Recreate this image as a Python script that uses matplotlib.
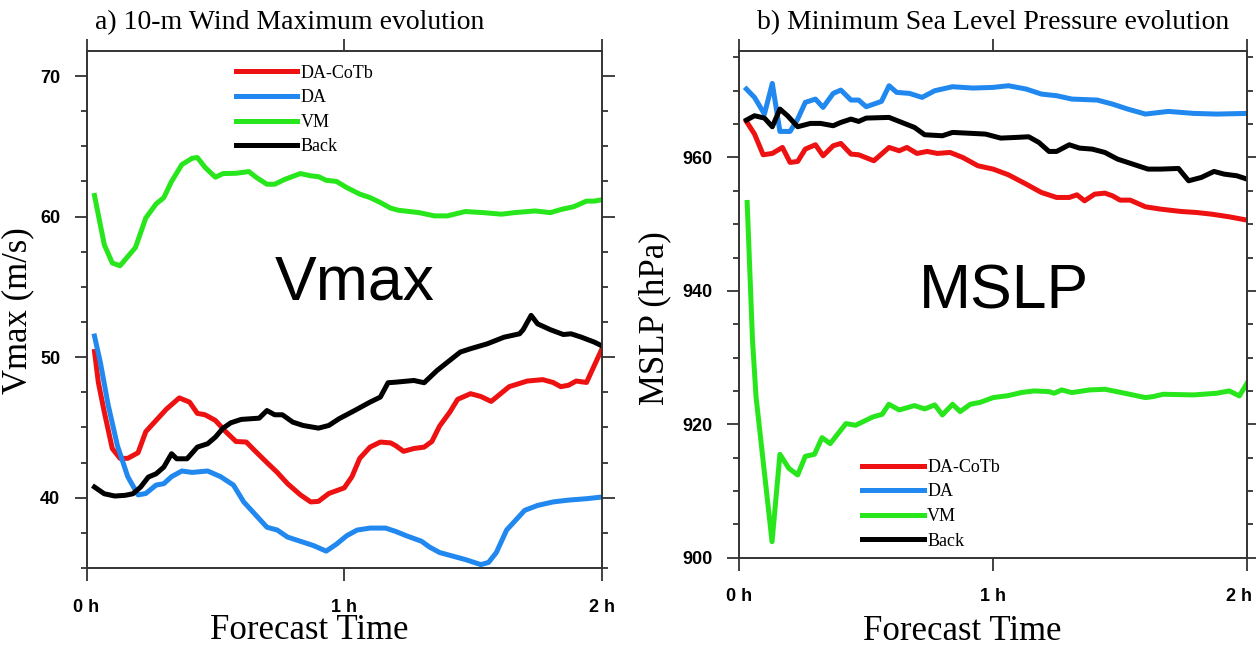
import numpy as np
import matplotlib
matplotlib.use("Agg")
import matplotlib.pyplot as plt
import matplotlib.transforms as mtrans
from matplotlib.ticker import MultipleLocator

# ---- panel a: 10-m wind maximum (m/s) ----
cotb_t = [0.031, 0.046, 0.069, 0.10, 0.13, 0.16, 0.20, 0.23, 0.27, 0.31, 0.36, 0.40, 0.43,
          0.46, 0.50, 0.54, 0.58, 0.62, 0.65, 0.70, 0.74, 0.78, 0.83, 0.87, 0.90, 0.94, 0.97,
          1.00, 1.03, 1.06, 1.10, 1.14, 1.18, 1.20, 1.23, 1.27, 1.31, 1.34, 1.37, 1.41, 1.44,
          1.49, 1.53, 1.57, 1.60, 1.64, 1.71, 1.77, 1.81, 1.84, 1.87, 1.90, 1.94, 1.97, 2.00]
cotb_v = [50.4, 48.2, 46.1, 43.5, 42.8, 42.8, 43.2, 44.7, 45.5, 46.3, 47.1, 46.8, 46.0,
          45.9, 45.5, 44.7, 44.0, 43.96, 43.4, 42.5, 41.8, 41.0, 40.2, 39.7, 39.74, 40.3, 40.5,
          40.7, 41.5, 42.8, 43.6, 43.96, 43.9, 43.7, 43.3, 43.5, 43.6, 44.0, 45.1, 46.1, 47.0,
          47.4, 47.2, 46.85, 47.3, 47.9, 48.3, 48.4, 48.2, 47.9, 48.0, 48.3, 48.2, 49.4, 50.6]

da_t = [0.031, 0.054, 0.084, 0.12, 0.16, 0.20, 0.23, 0.27, 0.30, 0.33, 0.37, 0.41, 0.47,
        0.52, 0.57, 0.61, 0.65, 0.70, 0.74, 0.78, 0.83, 0.88, 0.93, 0.97, 1.01, 1.05, 1.10,
        1.16, 1.20, 1.24, 1.30, 1.33, 1.37, 1.41, 1.47, 1.53, 1.56, 1.59, 1.63, 1.67, 1.70,
        1.75, 1.81, 1.87, 1.94, 2.00]
da_v = [51.5, 49.6, 46.6, 43.7, 41.5, 40.2, 40.3, 40.9, 41.0, 41.5, 41.9, 41.8, 41.9,
        41.5, 40.9, 39.7, 38.9, 37.9, 37.7, 37.2, 36.9, 36.6, 36.2, 36.7, 37.3, 37.7, 37.84,
        37.84, 37.6, 37.3, 36.9, 36.5, 36.1, 35.9, 35.6, 35.24, 35.4, 36.1, 37.7, 38.5, 39.1,
        39.45, 39.7, 39.83, 39.93, 40.05]

vm_t = [0.031, 0.069, 0.10, 0.13, 0.19, 0.23, 0.27, 0.30, 0.33, 0.37, 0.41, 0.43, 0.46,
        0.50, 0.53, 0.58, 0.63, 0.66, 0.70, 0.73, 0.77, 0.83, 0.87, 0.90, 0.93, 0.97, 1.01,
        1.06, 1.10, 1.14, 1.18, 1.21, 1.29, 1.35, 1.40, 1.47, 1.54, 1.61, 1.66, 1.74, 1.80,
        1.84, 1.89, 1.94, 1.97, 2.00]
vm_v = [61.5, 58.0, 56.7, 56.5, 57.8, 59.9, 60.9, 61.35, 62.5, 63.7, 64.15, 64.2, 63.5,
        62.8, 63.06, 63.08, 63.2, 62.77, 62.3, 62.3, 62.65, 63.06, 62.9, 62.84, 62.58, 62.5, 62.06,
        61.6, 61.35, 61.0, 60.6, 60.45, 60.28, 60.05, 60.05, 60.36, 60.28, 60.17, 60.28, 60.4, 60.28,
        60.5, 60.7, 61.1, 61.1, 61.2]

back_t = [0.031, 0.069, 0.11, 0.15, 0.18, 0.21, 0.24, 0.27, 0.30, 0.33, 0.35, 0.39, 0.43,
          0.47, 0.50, 0.53, 0.56, 0.60, 0.67, 0.70, 0.73, 0.76, 0.80, 0.84, 0.90, 0.94, 0.98,
          1.04, 1.10, 1.14, 1.17, 1.20, 1.27, 1.31, 1.36, 1.45, 1.49, 1.555, 1.62, 1.68, 1.694,
          1.725, 1.75, 1.80, 1.85, 1.88, 1.92, 1.97, 2.00]
back_v = [40.76, 40.28, 40.12, 40.17, 40.28, 40.76, 41.47, 41.7, 42.18, 43.13, 42.77, 42.77, 43.6,
          43.84, 44.31, 44.95, 45.33, 45.57, 45.66, 46.2, 45.9, 45.9, 45.38, 45.14, 44.95, 45.14, 45.62,
          46.2, 46.8, 47.16, 48.18, 48.22, 48.34, 48.18, 49.05, 50.36, 50.6, 50.95, 51.42, 51.66, 51.95,
          52.97, 52.37, 51.95, 51.61, 51.66, 51.42, 51.07, 50.8]

# ---- panel b: minimum sea level pressure (hPa) ----
cotb_pt = [0.028, 0.06, 0.094, 0.13, 0.17, 0.20, 0.23, 0.26, 0.30, 0.33, 0.37, 0.40, 0.44,
           0.47, 0.53, 0.59, 0.63, 0.66, 0.70, 0.74, 0.78, 0.83, 0.88, 0.94, 1.00, 1.06, 1.13,
           1.19, 1.25, 1.30, 1.33, 1.36, 1.40, 1.44, 1.47, 1.50, 1.54, 1.60, 1.66, 1.74, 1.80,
           1.86, 1.93, 2.00]
cotb_p = [965.4, 963.5, 960.4, 960.6, 961.5, 959.25, 959.4, 961.25, 961.9, 960.25, 961.75, 962.1, 960.5,
          960.4, 959.5, 961.5, 961.0, 961.5, 960.6, 960.9, 960.6, 960.75, 960.0, 958.75, 958.25, 957.4, 956.0,
          954.75, 954.0, 954.0, 954.4, 953.5, 954.5, 954.65, 954.25, 953.6, 953.6, 952.6, 952.25, 951.9, 951.75,
          951.5, 951.1, 950.6]

da_pt = [0.028, 0.06, 0.099, 0.13, 0.16, 0.20, 0.23, 0.26, 0.30, 0.33, 0.37, 0.40, 0.44,
         0.47, 0.50, 0.56, 0.59, 0.62, 0.67, 0.72, 0.77, 0.84, 0.92, 1.00, 1.06, 1.13, 1.19,
         1.25, 1.31, 1.41, 1.47, 1.53, 1.60, 1.69, 1.79, 1.88, 2.00]
da_p = [970.25, 969.0, 966.5, 971.1, 963.9, 963.9, 965.75, 968.25, 968.75, 967.5, 969.6, 970.1, 968.6,
        968.6, 967.6, 968.4, 970.75, 969.75, 969.6, 969.0, 970.0, 970.6, 970.4, 970.5, 970.75, 970.25, 969.5,
        969.25, 968.75, 968.6, 968.0, 967.25, 966.5, 966.9, 966.6, 966.5, 966.6]

vm_pt = [0.031, 0.052, 0.066, 0.129, 0.16, 0.195, 0.23, 0.26, 0.296, 0.326, 0.358, 0.42, 0.458,
         0.526, 0.563, 0.589, 0.63, 0.69, 0.73, 0.77, 0.80, 0.84, 0.87, 0.91, 0.95, 1.00, 1.06,
         1.11, 1.16, 1.22, 1.24, 1.27, 1.31, 1.38, 1.44, 1.50, 1.55, 1.60, 1.63, 1.67, 1.79,
         1.88, 1.93, 1.97, 2.00]
vm_p = [953.25, 932.6, 924.1, 902.4, 915.5, 913.4, 912.4, 915.2, 915.5, 918.0, 917.1, 920.1, 919.85,
        921.1, 921.5, 923.0, 922.15, 922.8, 922.3, 922.9, 921.4, 923.0, 921.9, 923.0, 923.3, 924.0, 924.3,
        924.75, 925.0, 924.9, 924.65, 925.15, 924.75, 925.15, 925.25, 924.8, 924.4, 924.0, 924.15, 924.5, 924.4,
        924.65, 925.0, 924.25, 926.15]

back_pt = [0.028, 0.06, 0.099, 0.13, 0.16, 0.19, 0.23, 0.28, 0.32, 0.37, 0.40, 0.44, 0.47,
           0.50, 0.59, 0.64, 0.69, 0.73, 0.80, 0.84, 0.92, 0.97, 1.03, 1.09, 1.14, 1.18, 1.22,
           1.25, 1.30, 1.34, 1.39, 1.44, 1.49, 1.55, 1.61, 1.66, 1.73, 1.77, 1.82, 1.87, 1.91,
           1.96, 2.00]
back_p = [965.6, 966.25, 965.9, 964.6, 967.25, 966.25, 964.6, 965.1, 965.1, 964.75, 965.25, 965.75, 965.4,
          965.9, 966.0, 965.25, 964.5, 963.4, 963.25, 963.75, 963.6, 963.5, 962.9, 963.0, 963.1, 962.25, 960.9,
          960.9, 961.9, 961.4, 961.25, 960.75, 959.75, 959.0, 958.25, 958.25, 958.35, 956.5, 957.0, 957.9, 957.5,
          957.25, 956.75]

names = ["DA-CoTb", "DA", "VM", "Back"]
colors = ["#ee1111", "#2088ee", "#28e61c", "#000000"]
xticks = [0, 1, 2]
xticklabels = ["0 h", "1 h", "2 h"]

serif = "Liberation Serif"
sans = "Liberation Sans"

W, H = 1256, 650
fig = plt.figure(figsize=(W / 100, H / 100), dpi=100)
ax1 = fig.add_axes([86.5 / W, 1 - 568 / H, (602 - 86.5) / W, (568 - 50.7) / H])
ax2 = fig.add_axes([739.3 / W, 1 - 557.7 / H, (1247 - 739.3) / W, (557.7 - 50.7) / H])

panel_a = [(cotb_t, cotb_v), (da_t, da_v), (vm_t, vm_v), (back_t, back_v)]
panel_b = [(cotb_pt, cotb_p), (da_pt, da_p), (vm_pt, vm_p), (back_pt, back_p)]

for ax, series in [(ax1, panel_a), (ax2, panel_b)]:
    for (tt, vv), nm, c in zip(series, names, colors):
        ax.plot(tt, vv, color=c, lw=3.6, label=nm, solid_joinstyle="round")
    ax.set_xlim(0, 2)
    ax.set_xticks(xticks)
    ax.set_xticklabels(xticklabels, fontfamily=sans, fontsize=13, fontweight="bold")
    ax.tick_params(which="both", direction="out", top=True, right=True,
                   color="#333333", width=1.3)
    ax.tick_params(which="major", length=9)
    ax.tick_params(which="minor", length=4.5)
    ax.tick_params(axis="x", pad=13)
    ax.tick_params(axis="y", pad=10, labelsize=13)
    for sp in ax.spines.values():
        sp.set_linewidth(1.4)
        sp.set_color("#333333")

ax1.set_ylim(35, 71.8)
ax1.yaxis.set_major_locator(MultipleLocator(10))
ax1.yaxis.set_minor_locator(MultipleLocator(2.5))
ax1.set_xlabel("Forecast Time", fontfamily=serif, fontsize=25, va="bottom")
ax1.xaxis.set_label_coords(0.432, -0.1535)
ax1.set_ylabel("Vmax (m/s)", fontfamily=serif, fontsize=25, va="baseline")
ax1.yaxis.set_label_coords(-0.117, 0.498)
ax1.text(0.395, 1.031, "a) 10-m Wind Maximum evolution", transform=ax1.transAxes,
         ha="center", va="bottom", fontfamily=serif, fontsize=20)
ax1.text(0.52, 0.55, "Vmax", transform=ax1.transAxes, ha="center", va="center",
         fontfamily=sans, fontsize=45)
ax1.legend(loc="upper left", bbox_to_anchor=(0.29, 0.973), frameon=False,
           prop={"family": serif, "size": 13}, handlelength=3.4, handletextpad=0.2,
           labelspacing=0.42, borderpad=0, borderaxespad=0)

ax2.set_ylim(900, 976)
ax2.yaxis.set_major_locator(MultipleLocator(20))
ax2.yaxis.set_minor_locator(MultipleLocator(5))
ax2.set_xlabel("Forecast Time", fontfamily=serif, fontsize=25, va="bottom")
ax2.xaxis.set_label_coords(0.44, -0.178)
ax2.set_ylabel("MSLP (hPa)", fontfamily=serif, fontsize=25, va="baseline")
ax2.yaxis.set_label_coords(-0.149, 0.473)
ax2.text(0.5, 1.031, "b) Minimum Sea Level Pressure evolution", transform=ax2.transAxes,
         ha="center", va="bottom", fontfamily=serif, fontsize=20)
ax2.text(0.521, 0.524, "MSLP", transform=ax2.transAxes, ha="center", va="center",
         fontfamily=sans, fontsize=45)
ax2.legend(loc="upper left", bbox_to_anchor=(0.242, 0.195), frameon=False,
           prop={"family": serif, "size": 13}, handlelength=3.4, handletextpad=0.2,
           labelspacing=0.42, borderpad=0, borderaxespad=0)

for ax in (ax1, ax2):
    for lab in ax.get_yticklabels():
        lab.set_fontfamily(sans)
        lab.set_fontweight("bold")

# keep the last "2 h" label of panel b inside the canvas
last = ax2.get_xticklabels()[-1]
last.set_transform(last.get_transform() + mtrans.ScaledTranslation(-8 / 100, 0, fig.dpi_scale_trans))

fig.savefig("out.png", dpi=100)
